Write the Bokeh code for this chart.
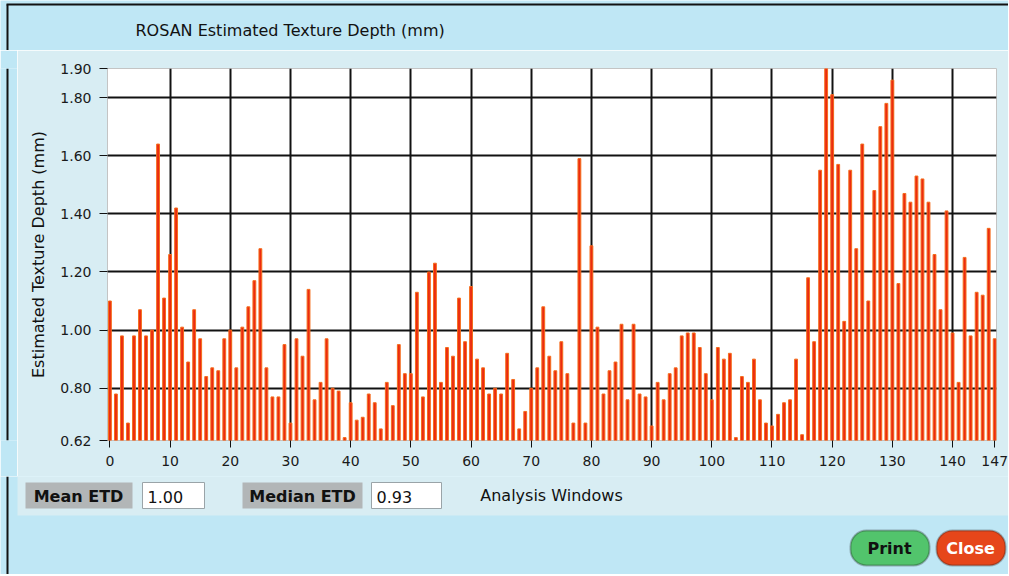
from bokeh.plotting import figure
from bokeh.layouts import column, row
from bokeh.models import FixedTicker, BoxAnnotation, Label, NumeralTickFormatter, Range1d
from bokeh.embed import file_html
from bokeh.resources import INLINE

# ---------------- data ----------------
windows = list(range(148))
etd = [
    1.10, 0.78, 0.98, 0.68, 0.98, 1.07, 0.98, 1.00, 1.64, 1.11,
    1.26, 1.42, 1.01, 0.89, 1.07, 0.97, 0.84, 0.87, 0.86, 0.97,
    1.00, 0.87, 1.01, 1.08, 1.17, 1.28, 0.87, 0.77, 0.77, 0.95,
    0.68, 0.97, 0.91, 1.14, 0.76, 0.82, 0.97, 0.80, 0.79, 0.63,
    0.75, 0.69, 0.70, 0.78, 0.75, 0.66, 0.82, 0.74, 0.95, 0.85,
    0.85, 1.13, 0.77, 1.20, 1.23, 0.82, 0.94, 0.91, 1.11, 0.96,
    1.15, 0.90, 0.87, 0.78, 0.80, 0.78, 0.92, 0.83, 0.66, 0.72,
    0.80, 0.87, 1.08, 0.91, 0.86, 0.96, 0.85, 0.68, 1.59, 0.68,
    1.29, 1.01, 0.78, 0.86, 0.89, 1.02, 0.76, 1.02, 0.78, 0.77,
    0.67, 0.82, 0.76, 0.85, 0.87, 0.98, 0.99, 0.99, 0.94, 0.85,
    0.76, 0.94, 0.90, 0.92, 0.63, 0.84, 0.82, 0.90, 0.76, 0.68,
    0.67, 0.71, 0.75, 0.76, 0.90, 0.64, 1.18, 0.96, 1.55, 1.90,
    1.81, 1.57, 1.03, 1.55, 1.28, 1.64, 1.10, 1.48, 1.70, 1.78,
    1.86, 1.16, 1.47, 1.44, 1.53, 1.52, 1.44, 1.26, 1.07, 1.41,
    0.99, 0.82, 1.25, 0.98, 1.13, 1.12, 1.35, 0.97,
]
x_ticks = [0, 10, 20, 30, 40, 50, 60, 70, 80, 90, 100, 110, 120, 130, 140, 147]
x_grid = [10, 20, 30, 40, 50, 60, 70, 80, 90, 100, 110, 120, 130, 140]
y_ticks = [0.62, 0.80, 1.00, 1.20, 1.40, 1.60, 1.80, 1.90]
y_grid = [0.80, 1.00, 1.20, 1.40, 1.60, 1.80]
y_min, y_max = 0.62, 1.90
chart_title = "ROSAN Estimated Texture Depth (mm)"
y_title = "Estimated Texture Depth (mm)"
x_title = "Analysis Windows"
mean_label, mean_etd = "Mean ETD", "1.00"
median_label, median_etd = "Median ETD", "0.93"
buttons = ["Print", "Close"]

# ---------------- style ----------------
OUTER = "#bfe7f5"
PANEL = "#d8edf3"
FONT = "DejaVu Sans"
W = 1008


def blank(w, h, bg):
    # a plain drawing surface: frame == canvas, y grows downwards (pixel-like)
    f = figure(width=w, height=h, output_backend="svg", toolbar_location=None,
               title=None, x_axis_location=None, y_axis_location=None,
               min_border=0, x_range=Range1d(0, w), y_range=Range1d(h, 0))
    f.background_fill_color = bg
    f.border_fill_color = bg
    f.outline_line_color = None
    f.grid.visible = False
    return f


def rect(f, l, r, t, b, color, line=None):
    f.quad(left=[l], right=[r], top=[t], bottom=[b], fill_color=color,
           line_color=line, line_width=1)


def rule(f, x0, y0, x1, y1):
    f.segment(x0=[x0], y0=[y0], x1=[x1], y1=[y1], line_color="#111111",
              line_width=2)


def rbox(f, l, r, t, b, **kw):
    box = BoxAnnotation(left=l, right=r, top=t, bottom=b,
                        left_units="canvas", right_units="canvas",
                        top_units="canvas", bottom_units="canvas",
                        fill_alpha=1, **kw)
    f.add_layout(box)


def clabel(f, x, y, text, **kw):
    lab = Label(x=x, y=y, x_units="canvas", y_units="canvas", text=text,
                text_font=FONT, text_baseline="middle", **kw)
    f.add_layout(lab)


# ---- top band with the title ----
top = blank(W, 50, OUTER)
rule(top, 6, 4, W, 4)
rule(top, 7, 4, 7, 50)
clabel(top, 135, 30, chart_title, text_font_size="16px", text_color="#111111")

# ---- left strip ----
left = blank(17, 426, OUTER)
rule(left, 7, 0, 7, 426)

# ---- main chart ----
p = figure(width=W - 17, height=426, output_backend="svg", toolbar_location=None,
           title=None, x_range=Range1d(-0.4, 147.3), y_range=Range1d(y_min, y_max),
           min_border_left=90, min_border_right=12, min_border_top=18,
           min_border_bottom=36)
p.background_fill_color = "white"
p.border_fill_color = PANEL
p.outline_line_color = "#c4c4c4"

p.vbar(x=windows, top=etd, bottom=y_min, width=0.47,
       fill_color="#ec2a10", line_color="#f46e1c", line_width=1)

for ax in (p.xaxis, p.yaxis):
    ax.axis_line_color = None
    ax.major_tick_line_color = "#111111"
    ax.major_tick_line_width = 1
    ax.major_tick_in = 0
    ax.minor_tick_line_color = None
    ax.major_label_text_font = FONT
    ax.major_label_text_font_size = "14px"
    ax.major_label_text_color = "#1a1a1a"
    ax.axis_label_text_font = FONT
    ax.axis_label_text_font_style = "normal"
    ax.axis_label_text_font_size = "16px"
    ax.axis_label_text_color = "#111111"

p.xaxis.ticker = FixedTicker(ticks=x_ticks)
p.xaxis.major_tick_out = 7
p.xaxis.major_label_standoff = 8

p.yaxis.ticker = FixedTicker(ticks=y_ticks)
p.yaxis.formatter = NumeralTickFormatter(format="0.00")
p.yaxis.major_tick_out = 8
p.yaxis.major_label_standoff = 8
p.yaxis.axis_label = y_title
p.yaxis.axis_label_standoff = 9

p.xgrid.ticker = FixedTicker(ticks=x_grid)
p.ygrid.ticker = FixedTicker(ticks=y_grid)
for g in (p.xgrid, p.ygrid):
    g.grid_line_color = "#121212"
    g.grid_line_width = 2

# ---- bottom band: statistics, axis title, buttons ----
bot = blank(W, 98, OUTER)
rect(bot, 17, W, 0, 39, PANEL)
rule(bot, 7, 0, 7, 98)

rect(bot, 25, 132, 6, 32, "#b2b6b7")
rect(bot, 142, 204, 6, 32, "white", "#9aa4a8")
rect(bot, 242, 362, 6, 32, "#b2b6b7")
rect(bot, 371, 441, 6, 32, "white", "#9aa4a8")

clabel(bot, 78, 20, mean_label, text_font_size="16px", text_font_style="bold",
       text_align="center", text_color="#111111")
clabel(bot, 147, 20, mean_etd, text_font_size="16px", text_color="#111111")
clabel(bot, 302, 20, median_label, text_font_size="16px", text_font_style="bold",
       text_align="center", text_color="#111111")
clabel(bot, 376, 20, median_etd, text_font_size="16px", text_color="#111111")
clabel(bot, 551, 19, x_title, text_font_size="16px", text_align="center",
       text_color="#111111")

rbox(bot, 850, 929, 54, 89, fill_color="#52c46c", line_color="#1a1a1a",
     line_width=2, border_radius=16)
rbox(bot, 936, 1005, 54, 89, fill_color="#e6461a", line_color="#1a1a1a",
     line_width=2, border_radius=16)
clabel(bot, 889, 72, buttons[0], text_font_size="16px", text_font_style="bold",
       text_align="center", text_color="#111111")
clabel(bot, 970, 72, buttons[1], text_font_size="16px", text_font_style="bold",
       text_align="center", text_color="white")

layout = column(top, row(left, p), bot)
open("out.html", "w").write(file_html(layout, INLINE))
